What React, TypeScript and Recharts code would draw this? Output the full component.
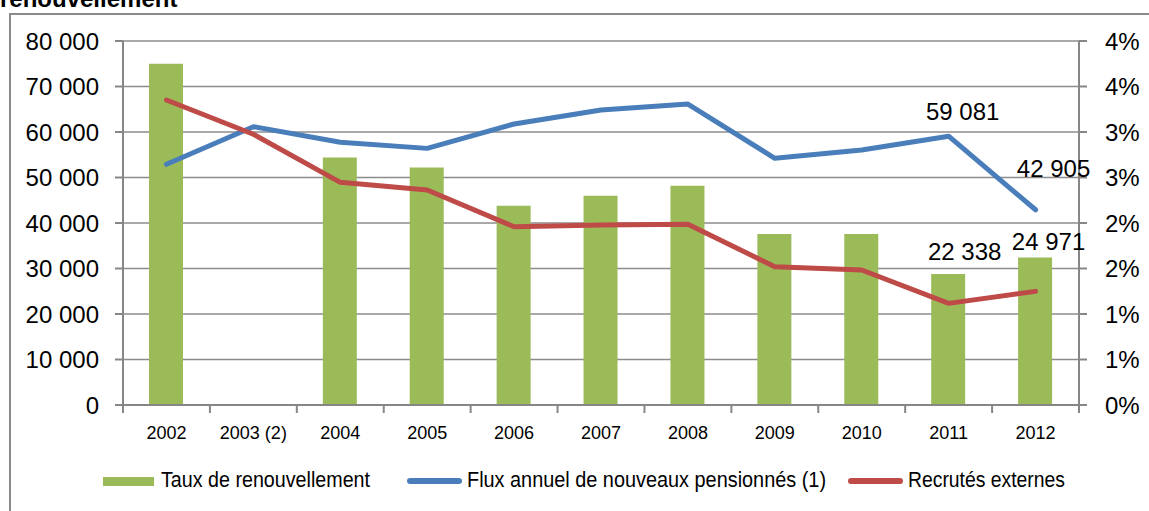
import React from 'react';
import { ComposedChart, Bar, Line, XAxis, YAxis, CartesianGrid } from 'recharts';

const categories = ['2002', '2003 (2)', '2004', '2005', '2006', '2007', '2008', '2009', '2010', '2011', '2012'];
const tauxRenouvellement: (number | null)[] = [3.75, null, 2.72, 2.61, 2.19, 2.3, 2.41, 1.88, 1.88, 1.44, 1.62];
const fluxPensionnes = [52900, 61170, 57730, 56400, 61760, 64840, 66150, 54220, 56040, 59081, 42905];
const recrutesExternes = [67030, 59500, 48940, 47250, 39190, 39560, 39710, 30400, 29670, 22338, 24971];
const leftTicks = [0, 10000, 20000, 30000, 40000, 50000, 60000, 70000, 80000];
const rightTicks = [0, 0.5, 1, 1.5, 2, 2.5, 3, 3.5, 4];
const legendLabels = ['Taux de renouvellement', 'Flux annuel de nouveaux pensionnés (1)', 'Recrutés externes'];
const titleText = 'renouvellement';
const labelledIndices = [9, 10];

const data = categories.map((c, i) => ({
  cat: c,
  taux: tauxRenouvellement[i],
  flux: fluxPensionnes[i],
  recr: recrutesExternes[i],
}));

const W = 1149;
const H = 511;
const LEFT_W = 123;
const RIGHT_W = 70;
const TOP = 41;
const BOTTOM = 76;
const XAXIS_H = 30;
const BAND = (W - LEFT_W - RIGHT_W) / categories.length;

const FONT = '"Liberation Sans", Arial, sans-serif';
const AXIS = '#868686';
const GREEN = '#9BBB59';
const BLUE = '#4A7EBB';
const RED = '#BE4B48';

const fmtThousands = (v: number) => String(Math.round(v)).replace(/\B(?=(\d{3})+(?!\d))/g, ' ');

const XTick = (props: any) => {
  const { x, y, payload, index } = props;
  const half = BAND / 2;
  return (
    <g>
      <line x1={x - half} x2={x - half} y1={y} y2={y + 8} stroke={AXIS} strokeWidth={2} />
      {index === categories.length - 1 && (
        <line x1={x + half} x2={x + half} y1={y} y2={y + 8} stroke={AXIS} strokeWidth={2} />
      )}
      <text x={x} y={y + 34} textAnchor="middle" fontSize={18} fill="#000" fontFamily={FONT}>
        {payload.value}
      </text>
    </g>
  );
};

const makeLabelDot = (key: 'flux' | 'recr', offsets: Record<number, [number, number]>) => (p: any) => {
  const { cx, cy, index, payload } = p;
  if (!labelledIndices.includes(index) || cx == null || cy == null) return <g key={`d-${key}-${index}`} />;
  const [dx, dy] = offsets[index];
  return (
    <text
      key={`d-${key}-${index}`}
      x={cx + dx}
      y={cy + dy}
      dy="0.35em"
      textAnchor="middle"
      fontSize={24}
      fill="#000"
      fontFamily={FONT}
    >
      {fmtThousands(payload[key])}
    </text>
  );
};

const blueDot = makeLabelDot('flux', { 9: [14, -24.5], 10: [18, -41.5] });
const redDot = makeLabelDot('recr', { 9: [16, -51.7], 10: [13, -49.7] });

export default function App() {
  return (
    <div style={{ position: 'absolute', left: 0, top: 0, width: W, height: H, overflow: 'hidden', background: '#fff' }}>
      <div
        style={{
          position: 'absolute',
          left: 9,
          top: 13,
          width: 1400,
          height: 800,
          border: '2px solid #8a8a8a',
          boxSizing: 'border-box',
        }}
      />
      <svg style={{ position: 'absolute', left: 0, top: 0 }} width={400} height={30}>
        <text x={0} y={7} fontWeight="bold" fontSize={24} fontFamily={FONT} fill="#000">
          {titleText}
        </text>
      </svg>
      <div style={{ position: 'absolute', left: 0, top: 0 }}>
        <ComposedChart
          width={W}
          height={H}
          data={data}
          margin={{ top: TOP, right: 0, bottom: BOTTOM, left: 0 }}
        >
          <CartesianGrid yAxisId="left" vertical={false} stroke="#8c8c8c" strokeWidth={1.5} />
          <XAxis
            dataKey="cat"
            height={XAXIS_H}
            interval={0}
            tickLine={false}
            tickSize={0}
            tickMargin={0}
            axisLine={{ stroke: AXIS, strokeWidth: 2 }}
            tick={<XTick />}
          />
          <YAxis
            yAxisId="left"
            orientation="left"
            width={LEFT_W}
            domain={[0, 80000]}
            ticks={leftTicks}
            interval={0}
            tickSize={8}
            tickMargin={16}
            tickFormatter={fmtThousands}
            axisLine={{ stroke: AXIS, strokeWidth: 2 }}
            tickLine={{ stroke: AXIS, strokeWidth: 2 }}
            tick={{ fontSize: 24, fill: '#000', fontFamily: FONT }}
          />
          <YAxis
            yAxisId="right"
            orientation="right"
            width={RIGHT_W}
            domain={[0, 4]}
            ticks={rightTicks}
            interval={0}
            tickSize={8}
            tickMargin={18}
            tickFormatter={(v: number) => `${Math.round(v)}%`}
            axisLine={{ stroke: AXIS, strokeWidth: 2 }}
            tickLine={{ stroke: AXIS, strokeWidth: 2 }}
            tick={{ fontSize: 24, fill: '#000', fontFamily: FONT }}
          />
          <Bar yAxisId="right" dataKey="taux" fill={GREEN} barSize={34} isAnimationActive={false} />
          <Line
            yAxisId="left"
            type="linear"
            dataKey="flux"
            stroke={BLUE}
            strokeWidth={5}
            strokeLinejoin="round"
            strokeLinecap="round"
            dot={blueDot}
            activeDot={false}
            isAnimationActive={false}
          />
          <Line
            yAxisId="left"
            type="linear"
            dataKey="recr"
            stroke={RED}
            strokeWidth={5}
            strokeLinejoin="round"
            strokeLinecap="round"
            dot={redDot}
            activeDot={false}
            isAnimationActive={false}
          />
        </ComposedChart>
      </div>
      <svg style={{ position: 'absolute', left: 0, top: 0 }} width={W} height={H}>
        <rect x={103} y={477} width={51} height={9} fill={GREEN} />
        <text x={161} y={487} fontSize={22} fontFamily={FONT} fill="#000" textLength={209} lengthAdjust="spacingAndGlyphs">
          {legendLabels[0]}
        </text>
        <line x1={410} x2={459} y1={481} y2={481} stroke={BLUE} strokeWidth={6} strokeLinecap="round" />
        <text x={467} y={487} fontSize={22} fontFamily={FONT} fill="#000" textLength={359} lengthAdjust="spacingAndGlyphs">
          {legendLabels[1]}
        </text>
        <line x1={851} x2={900} y1={481} y2={481} stroke={RED} strokeWidth={6} strokeLinecap="round" />
        <text x={908} y={487} fontSize={22} fontFamily={FONT} fill="#000" textLength={157} lengthAdjust="spacingAndGlyphs">
          {legendLabels[2]}
        </text>
      </svg>
    </div>
  );
}
